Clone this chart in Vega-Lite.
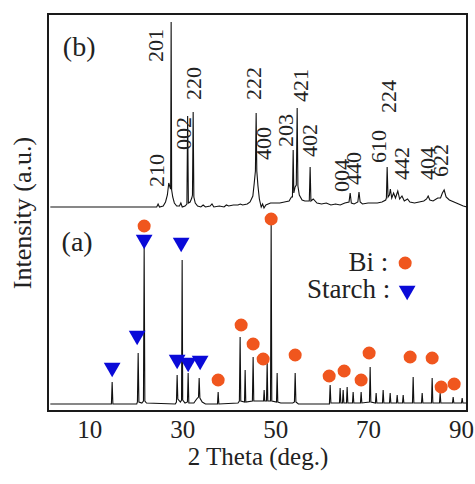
{
  "$schema": "https://vega.github.io/schema/vega-lite/v6.json",
  "width": 419,
  "height": 397,
  "autosize": {"type": "none"},
  "padding": {"left": 48, "top": 14, "right": 8, "bottom": 73},
  "config": {
    "view": {"stroke": "#1a1a1a", "strokeWidth": 2},
    "font": "Liberation Serif",
    "axis": {"grid": false}
  },
  "datasets": {
    "trace": [
      {"s":"b","x":1.6,"y":204},{"s":"b","x":24.5,"y":204},{"s":"b","x":24.8,"y":207},{"s":"b","x":25.1,"y":204},{"s":"b","x":25.9,"y":205},{"s":"b","x":26.4,"y":209},{"s":"b","x":26.8,"y":216},{"s":"b","x":27.1,"y":228},{"s":"b","x":27.35,"y":224},{"s":"b","x":27.5,"y":222},{"s":"b","x":27.61,"y":389},{"s":"b","x":27.72,"y":221},{"s":"b","x":27.95,"y":214},{"s":"b","x":28.3,"y":208},{"s":"b","x":28.8,"y":205},{"s":"b","x":29.4,"y":205},{"s":"b","x":29.7,"y":208},{"s":"b","x":30.0,"y":204},{"s":"b","x":30.6,"y":205},{"s":"b","x":31.0,"y":207},{"s":"b","x":31.16,"y":295},{"s":"b","x":31.32,"y":208},{"s":"b","x":31.7,"y":209},{"s":"b","x":32.05,"y":213},{"s":"b","x":32.2,"y":216},{"s":"b","x":32.35,"y":299},{"s":"b","x":32.5,"y":214},{"s":"b","x":32.8,"y":208},{"s":"b","x":33.3,"y":205},{"s":"b","x":34.0,"y":204},{"s":"b","x":34.5,"y":206},{"s":"b","x":35.0,"y":204},{"s":"b","x":36.0,"y":205},{"s":"b","x":36.4,"y":207},{"s":"b","x":36.8,"y":204},{"s":"b","x":38.0,"y":205},{"s":"b","x":39.0,"y":204},{"s":"b","x":39.5,"y":206},{"s":"b","x":40.0,"y":205},{"s":"b","x":41.0,"y":206},{"s":"b","x":42.0,"y":206},{"s":"b","x":42.5,"y":207},{"s":"b","x":43.0,"y":206},{"s":"b","x":44.0,"y":207},{"s":"b","x":44.6,"y":209},{"s":"b","x":45.2,"y":215},{"s":"b","x":45.5,"y":228},{"s":"b","x":45.75,"y":240},{"s":"b","x":45.91,"y":298},{"s":"b","x":46.05,"y":240},{"s":"b","x":46.3,"y":225},{"s":"b","x":46.6,"y":212},{"s":"b","x":47.0,"y":204},{"s":"b","x":47.3,"y":207},{"s":"b","x":47.6,"y":203},{"s":"b","x":48.0,"y":206},{"s":"b","x":49.0,"y":208},{"s":"b","x":50.0,"y":208},{"s":"b","x":51.0,"y":208},{"s":"b","x":52.0,"y":209},{"s":"b","x":53.0,"y":210},{"s":"b","x":53.5,"y":214},{"s":"b","x":53.72,"y":214},{"s":"b","x":53.88,"y":261},{"s":"b","x":54.02,"y":218},{"s":"b","x":54.3,"y":224},{"s":"b","x":54.55,"y":226},{"s":"b","x":54.74,"y":303},{"s":"b","x":54.9,"y":225},{"s":"b","x":55.2,"y":216},{"s":"b","x":55.8,"y":211},{"s":"b","x":56.4,"y":210},{"s":"b","x":57.0,"y":210},{"s":"b","x":57.35,"y":210},{"s":"b","x":57.53,"y":244},{"s":"b","x":57.7,"y":210},{"s":"b","x":58.2,"y":212},{"s":"b","x":59.0,"y":208},{"s":"b","x":60.0,"y":207},{"s":"b","x":61.0,"y":208},{"s":"b","x":62.0,"y":206},{"s":"b","x":63.0,"y":207},{"s":"b","x":64.0,"y":206},{"s":"b","x":65.0,"y":208},{"s":"b","x":65.9,"y":209},{"s":"b","x":66.15,"y":218},{"s":"b","x":66.4,"y":208},{"s":"b","x":67.0,"y":207},{"s":"b","x":67.8,"y":209},{"s":"b","x":68.05,"y":219},{"s":"b","x":68.3,"y":209},{"s":"b","x":68.8,"y":207},{"s":"b","x":70.0,"y":208},{"s":"b","x":71.0,"y":208},{"s":"b","x":72.0,"y":208},{"s":"b","x":73.0,"y":209},{"s":"b","x":73.8,"y":211},{"s":"b","x":73.95,"y":213},{"s":"b","x":74.11,"y":244},{"s":"b","x":74.3,"y":214},{"s":"b","x":74.6,"y":216},{"s":"b","x":74.8,"y":222},{"s":"b","x":75.1,"y":213},{"s":"b","x":75.5,"y":218},{"s":"b","x":75.9,"y":213},{"s":"b","x":76.4,"y":220},{"s":"b","x":76.8,"y":212},{"s":"b","x":77.3,"y":215},{"s":"b","x":77.8,"y":210},{"s":"b","x":78.5,"y":212},{"s":"b","x":79.0,"y":209},{"s":"b","x":80.0,"y":208},{"s":"b","x":81.0,"y":209},{"s":"b","x":82.0,"y":210},{"s":"b","x":82.6,"y":212},{"s":"b","x":82.94,"y":215},{"s":"b","x":83.3,"y":211},{"s":"b","x":84.0,"y":210},{"s":"b","x":85.0,"y":213},{"s":"b","x":85.6,"y":213},{"s":"b","x":86.0,"y":218},{"s":"b","x":86.38,"y":221},{"s":"b","x":86.8,"y":214},{"s":"b","x":87.5,"y":211},{"s":"b","x":88.5,"y":209},{"s":"b","x":89.5,"y":207},{"s":"b","x":90.5,"y":205},{"s":"b","x":91.3,"y":204},
      {"s":"a","x":1.6,"y":7},{"s":"a","x":14.75,"y":7},{"s":"a","x":14.91,"y":29},{"s":"a","x":15.07,"y":7},{"s":"a","x":20.2,"y":7},{"s":"a","x":20.35,"y":9},{"s":"a","x":20.51,"y":58},{"s":"a","x":20.67,"y":9},{"s":"a","x":21.3,"y":8},{"s":"a","x":21.65,"y":10},{"s":"a","x":21.8,"y":164},{"s":"a","x":21.95,"y":10},{"s":"a","x":22.3,"y":8},{"s":"a","x":28.5,"y":7},{"s":"a","x":28.75,"y":9},{"s":"a","x":28.9,"y":36},{"s":"a","x":29.05,"y":12},{"s":"a","x":29.6,"y":9},{"s":"a","x":29.85,"y":11},{"s":"a","x":29.98,"y":151},{"s":"a","x":30.1,"y":11},{"s":"a","x":30.6,"y":8},{"s":"a","x":31.12,"y":9},{"s":"a","x":31.27,"y":38},{"s":"a","x":31.42,"y":8},{"s":"a","x":32.5,"y":8},{"s":"a","x":33.1,"y":12},{"s":"a","x":33.5,"y":14},{"s":"a","x":33.64,"y":33},{"s":"a","x":33.8,"y":13},{"s":"a","x":34.3,"y":9},{"s":"a","x":35.0,"y":7},{"s":"a","x":37.58,"y":7},{"s":"a","x":37.73,"y":19},{"s":"a","x":37.88,"y":7},{"s":"a","x":42.0,"y":8},{"s":"a","x":42.3,"y":10},{"s":"a","x":42.46,"y":74},{"s":"a","x":42.6,"y":10},{"s":"a","x":43.4,"y":9},{"s":"a","x":43.54,"y":41},{"s":"a","x":43.68,"y":9},{"s":"a","x":45.1,"y":10},{"s":"a","x":45.26,"y":54},{"s":"a","x":45.4,"y":10},{"s":"a","x":47.5,"y":10},{"s":"a","x":47.63,"y":21},{"s":"a","x":47.76,"y":10},{"s":"a","x":48.14,"y":10},{"s":"a","x":48.28,"y":49},{"s":"a","x":48.42,"y":10},{"s":"a","x":49.0,"y":10},{"s":"a","x":49.14,"y":186},{"s":"a","x":49.28,"y":10},{"s":"a","x":50.29,"y":9},{"s":"a","x":50.43,"y":38},{"s":"a","x":50.57,"y":9},{"s":"a","x":51.2,"y":8},{"s":"a","x":53.8,"y":8},{"s":"a","x":54.15,"y":9},{"s":"a","x":54.31,"y":38},{"s":"a","x":54.47,"y":9},{"s":"a","x":55.0,"y":7},{"s":"a","x":61.68,"y":7},{"s":"a","x":61.84,"y":26},{"s":"a","x":62.0,"y":8},{"s":"a","x":63.84,"y":8},{"s":"a","x":63.99,"y":23},{"s":"a","x":64.14,"y":8},{"s":"a","x":64.49,"y":8},{"s":"a","x":64.64,"y":21},{"s":"a","x":64.79,"y":8},{"s":"a","x":65.35,"y":8},{"s":"a","x":65.5,"y":24},{"s":"a","x":65.65,"y":8},{"s":"a","x":66.64,"y":8},{"s":"a","x":66.79,"y":19},{"s":"a","x":66.94,"y":8},{"s":"a","x":68.36,"y":8},{"s":"a","x":68.51,"y":19},{"s":"a","x":68.66,"y":8},{"s":"a","x":70.3,"y":9},{"s":"a","x":70.45,"y":44},{"s":"a","x":70.6,"y":9},{"s":"a","x":71.59,"y":8},{"s":"a","x":71.74,"y":18},{"s":"a","x":71.89,"y":8},{"s":"a","x":73.1,"y":8},{"s":"a","x":73.25,"y":21},{"s":"a","x":73.4,"y":8},{"s":"a","x":74.61,"y":8},{"s":"a","x":74.76,"y":18},{"s":"a","x":74.91,"y":8},{"s":"a","x":76.12,"y":8},{"s":"a","x":76.27,"y":16},{"s":"a","x":76.42,"y":8},{"s":"a","x":77.41,"y":8},{"s":"a","x":77.56,"y":16},{"s":"a","x":77.71,"y":8},{"s":"a","x":79.56,"y":8},{"s":"a","x":79.71,"y":34},{"s":"a","x":79.86,"y":8},{"s":"a","x":81.5,"y":8},{"s":"a","x":81.65,"y":18},{"s":"a","x":81.8,"y":8},{"s":"a","x":83.65,"y":8},{"s":"a","x":83.8,"y":33},{"s":"a","x":83.95,"y":8},{"s":"a","x":85.37,"y":8},{"s":"a","x":85.52,"y":18},{"s":"a","x":85.67,"y":8},{"s":"a","x":88.17,"y":8},{"s":"a","x":88.32,"y":14},{"s":"a","x":88.47,"y":8},{"s":"a","x":90.11,"y":8},{"s":"a","x":90.26,"y":13},{"s":"a","x":90.41,"y":8},{"s":"a","x":91.2,"y":8}
    ],
    "bi": [
      {"x":21.8,"y":185},{"x":37.73,"y":31},{"x":42.68,"y":86},{"x":45.26,"y":67},{"x":47.42,"y":52},{"x":49.14,"y":192},{"x":54.31,"y":56},{"x":61.63,"y":35},{"x":64.85,"y":40},{"x":68.51,"y":31},{"x":70.23,"y":58},{"x":79.06,"y":54},{"x":83.8,"y":53},{"x":85.74,"y":24},{"x":88.54,"y":27},{"x":77.99,"y":148}
    ],
    "starch": [
      {"x":14.91,"y":41},{"x":20.29,"y":73},{"x":21.8,"y":169},{"x":29.77,"y":166},{"x":28.9,"y":49},{"x":31.27,"y":46},{"x":33.85,"y":48},{"x":78.42,"y":118}
    ],
    "hkl": [
      {"t":"210","x":24.6,"y":224},{"t":"201","x":24.38,"y":349},{"t":"002","x":30.41,"y":261},{"t":"220","x":32.56,"y":311},{"t":"222","x":45.48,"y":311},{"t":"400","x":47.63,"y":251},{"t":"203","x":52.37,"y":264},{"t":"421","x":55.6,"y":309},{"t":"402","x":57.53,"y":254},{"t":"004","x":64.42,"y":219},{"t":"440","x":67.0,"y":226},{"t":"610","x":72.39,"y":248},{"t":"224","x":74.54,"y":298},{"t":"442","x":77.34,"y":231},{"t":"404","x":82.94,"y":231},{"t":"622","x":85.74,"y":234}
    ],
    "tags": [
      {"t":"(b)","x":7.81,"y":363},{"t":"(a)","x":7.37,"y":168}
    ],
    "keys": [
      {"t":"Bi :","x":74.33,"y":148},{"t":"Starch :","x":74.76,"y":121}
    ]
  },
  "encoding": {
    "x": {"field": "x", "type": "quantitative", "scale": {"domain": [1.1, 91.3], "nice": false, "zero": false},
      "axis": {"title": "2 Theta (deg.)", "values": [10, 30, 50, 70, 90], "ticks": false, "tickSize": 0, "domain": false,
        "labelFontSize": 25, "labelPadding": 6, "labelColor": "#222222", "labelFont": "Liberation Serif",
        "titleFont": "Liberation Serif", "titleFontSize": 25, "titleFontWeight": "normal", "titleColor": "#222222", "titlePadding": 2}},
    "y": {"field": "y", "type": "quantitative", "scale": {"domain": [0, 397], "nice": false, "zero": false},
      "axis": {"title": "Intensity (a.u.)", "labels": false, "ticks": false, "tickSize": 0, "domain": false,
        "titleFont": "Liberation Serif", "titleFontSize": 26, "titleFontWeight": "normal", "titleColor": "#222222", "titlePadding": 13}}
  },
  "layer": [
    {
      "data": {"name": "trace"},
      "mark": {"type": "line", "color": "#111111", "strokeWidth": 1.1, "clip": true},
      "encoding": {"detail": {"field": "s"}}
    },
    {
      "data": {"name": "starch"},
      "mark": {"type": "point", "shape": "triangle-down", "filled": true, "color": "#0a0ad8", "size": 280, "opacity": 1},
      "encoding": {}
    },
    {
      "data": {"name": "bi"},
      "mark": {"type": "point", "shape": "circle", "filled": true, "color": "#f0561e", "size": 170, "opacity": 1},
      "encoding": {}
    },
    {
      "data": {"name": "hkl"},
      "mark": {"type": "text", "angle": 270, "align": "left", "baseline": "middle", "fontSize": 22, "font": "Liberation Serif", "color": "#222222"},
      "encoding": {"text": {"field": "t"}}
    },
    {
      "data": {"name": "tags"},
      "mark": {"type": "text", "align": "center", "baseline": "middle", "fontSize": 28, "font": "Liberation Serif", "color": "#222222"},
      "encoding": {"text": {"field": "t"}}
    },
    {
      "data": {"name": "keys"},
      "mark": {"type": "text", "align": "right", "baseline": "middle", "fontSize": 27, "font": "Liberation Serif", "color": "#222222"},
      "encoding": {"text": {"field": "t"}}
    }
  ]
}
